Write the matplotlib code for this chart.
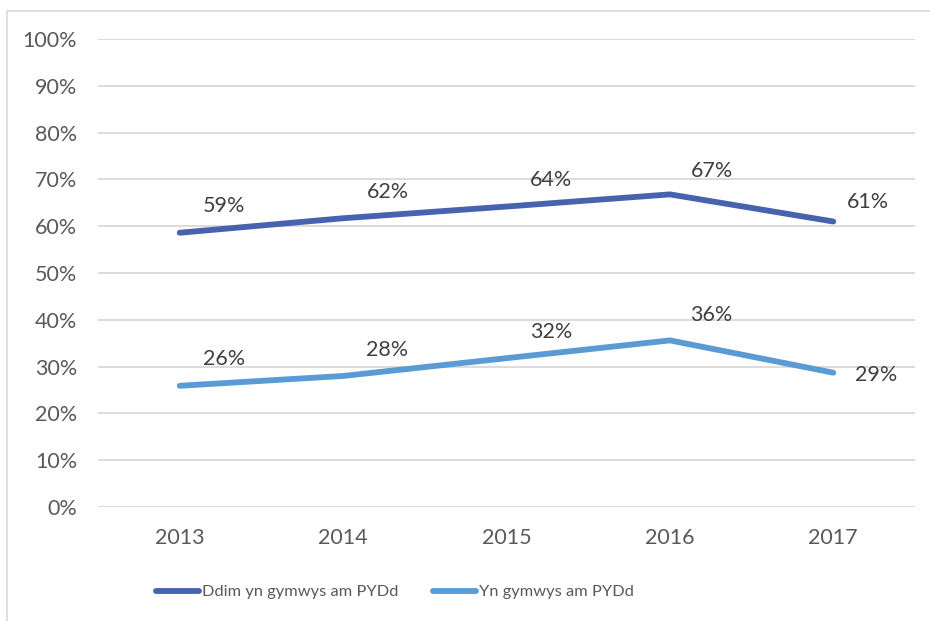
import numpy as np
import matplotlib.pyplot as plt
from matplotlib.patches import Rectangle

plt.rcParams['font.family'] = ['Lato', 'DejaVu Sans']

years = ['2013', '2014', '2015', '2016', '2017']
ddim = [58.6, 61.7, 64.2, 66.8, 61.0]
yn = [25.9, 28.0, 31.8, 35.6, 28.7]
names = ['Ddim yn gymwys am PYDd', 'Yn gymwys am PYDd']

fig = plt.figure(figsize=(9.3, 6.21), dpi=100)
# thin frame round the chart
fig.patches.append(Rectangle((7 / 930, -0.01), 1.0, 1 - 11 / 621 + 0.01,
                             transform=fig.transFigure, fill=False,
                             edgecolor='#d9d9d9', lw=1.2))
ax = fig.add_axes([98 / 930, 1 - 507 / 621, (915 - 98) / 930, (507 - 39) / 621])

x = np.arange(len(years))
l1, = ax.plot(x, ddim, color='#4763ad', lw=4.2, solid_capstyle='round', label=names[0])
l2, = ax.plot(x, yn, color='#5b9bd5', lw=4.2, solid_capstyle='round', label=names[1])

# data labels (Excel puts them up and to the right)
offs = [(32, 19), (32, 19), (32, 19), (30, 17), (25, 14)]
offs2 = [(32, 19), (32, 19), (32, 19), (30, 18), (31, -2)]
for i in range(len(x)):
    ax.annotate('%d%%' % round(ddim[i]), (x[i], ddim[i]), xytext=offs[i],
                textcoords='offset points', ha='center', va='center',
                fontsize=15.5, color='#404040')
    ax.annotate('%d%%' % round(yn[i]), (x[i], yn[i]), xytext=offs2[i],
                textcoords='offset points', ha='center', va='center',
                fontsize=15.5, color='#404040')

ax.set_xlim(-0.5, 4.5)
ax.set_ylim(0, 100)
ax.set_yticks(range(0, 101, 10))
ax.set_yticklabels(['%d%%' % v for v in range(0, 101, 10)])
ax.set_xticks(x)
ax.set_xticklabels(years)
ax.tick_params(length=0, labelsize=15.5, labelcolor='#595959')
ax.tick_params(axis='y', pad=15)
ax.tick_params(axis='x', pad=15)
ax.grid(axis='y', color='#d9d9d9', lw=1.3)
ax.set_axisbelow(True)
for s in ax.spines.values():
    s.set_visible(False)

fig.legend(handles=[l1, l2], loc='center', bbox_to_anchor=(395 / 930, 1 - 592 / 621),
           ncol=2, frameon=False, fontsize=11.8, handlelength=2.6,
           handletextpad=0.2, columnspacing=2.1, labelcolor='#595959')

fig.savefig('out.png', dpi=100)
